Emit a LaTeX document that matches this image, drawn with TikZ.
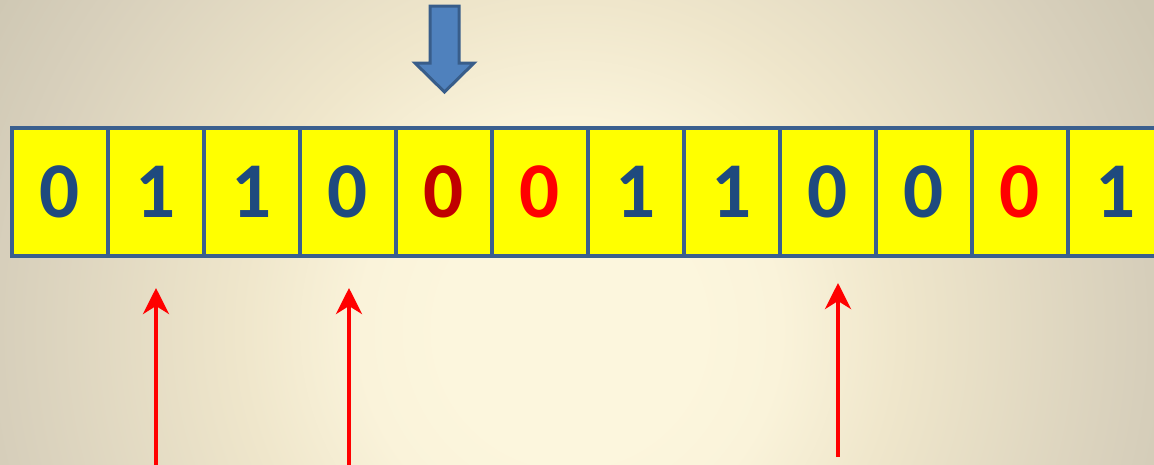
\documentclass[tikz,border=0pt]{standalone}
\usepackage{fontspec}
\setmainfont{Carlito}
\usetikzlibrary{arrows.meta}
\definecolor{bordercol}{HTML}{3A5F8E}
\definecolor{digitblue}{HTML}{1F4A7E}
\definecolor{darkred}{HTML}{C00000}
\definecolor{brightred}{HTML}{FF0000}
\definecolor{cellyellow}{HTML}{FFFF00}
\definecolor{bgA}{HTML}{FCF6DD}
\definecolor{bgB}{HTML}{FAF3DA}
\definecolor{bgC}{HTML}{EFE6CB}
\definecolor{bgD}{HTML}{D7CFBB}
\definecolor{bgE}{HTML}{CFC8B4}
\definecolor{arrowfill}{HTML}{4F81BD}
\definecolor{arrowline}{HTML}{385D8A}
\pgfdeclareradialshading{bgshade}{\pgfpoint{0bp}{0bp}}{color(0bp)=(bgA); color(4.5bp)=(bgA); color(7.5bp)=(bgB); color(11.8bp)=(bgC); color(20.4bp)=(bgD); color(23.5bp)=(bgE); color(50bp)=(bgE)}
\tikzset{
  cell/.style={draw=bordercol, line width=4pt, fill=cellyellow, minimum width=96pt, minimum height=128pt, inner sep=0pt, font=\fontsize{79}{79}\selectfont\bfseries},
  redarrow/.style={draw=brightred, line width=4pt, -{Stealth[length=26pt, width=26pt, inset=8pt]}},
  bluearrow/.style={fill=arrowfill, draw=arrowline, line width=3pt, line join=miter}
}
\begin{document}
\begin{tikzpicture}[x=1pt, y=-1pt]
\useasboundingbox (0,0) rectangle (1154,464);
\clip (0,0) rectangle (1154,464);
\shade[shading=bgshade] (-130,-370) rectangle (1270,1030);
\foreach \i/\d/\c in {0/0/digitblue, 1/1/digitblue, 2/1/digitblue, 3/0/digitblue, 4/0/darkred, 5/0/brightred, 6/1/digitblue, 7/1/digitblue, 8/0/digitblue, 9/0/digitblue, 10/0/brightred, 11/1/digitblue}{
  \node[cell, text=\c] (c\i) at ({60+96*\i},192) {\d};
}
% blue block arrow
\draw[bluearrow] (430,6) -- (459,6) -- (459,63) -- (474,63) -- (444.5,92) -- (415,63) -- (430,63) -- cycle;
% red arrows
\coordinate (r1s) at (156,470);
\coordinate (r1e) at (156,288);
\coordinate (r2s) at (349,470);
\coordinate (r2e) at (349,288);
\coordinate (r3s) at (838,457);
\coordinate (r3e) at (838,283);
\draw[redarrow] (r1s) -- (r1e);
\draw[redarrow] (r2s) -- (r2e);
\draw[redarrow] (r3s) -- (r3e);
\end{tikzpicture}
\end{document}
